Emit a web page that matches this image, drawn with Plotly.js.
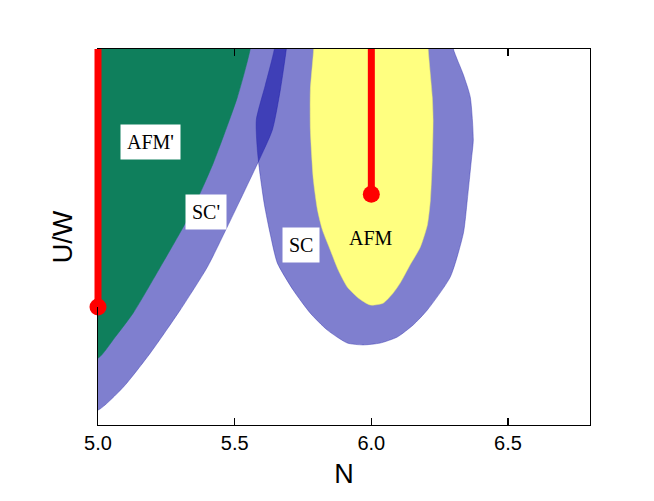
<!DOCTYPE html>
<html><head><meta charset="utf-8">
<script src="https://cdn.plot.ly/plotly-3.0.1.min.js"></script>
<style>body{margin:0;background:#fff}#c{width:654px;height:501px}</style>
</head><body><div id="c"></div>
<script>
// Region boundaries (N, U/W in relative units 0..1; points above 1 run past the frame top)
const afmPrimeN = [4.950,5.570,5.557,5.510,5.422,5.367,5.316,5.228,5.129,5.063,5.001,4.950,4.950];
const afmPrimeU = [1.080,1.080,1.000,0.872,0.697,0.606,0.532,0.420,0.298,0.234,0.178,0.178,1.080];

const scPrimeN = [4.950,5.700,5.689,5.667,5.638,5.586,5.473,5.400,5.301,5.191,5.093,5.001,4.950,4.950];
const scPrimeU = [1.080,1.080,1.000,0.891,0.785,0.699,0.527,0.420,0.306,0.191,0.101,0.040,0.040,1.080];

const scN = [5.655,5.645,5.612,5.579,5.583,5.594,5.609,5.631,5.656,5.714,5.776,5.838,5.912,5.970,6.033,6.095,6.153,6.205,6.289,6.337,6.351,6.366,6.373,6.362,6.337,6.300,6.280,5.655];
const scU = [1.080,1.000,0.904,0.811,0.731,0.660,0.585,0.505,0.431,0.359,0.298,0.253,0.218,0.213,0.218,0.234,0.266,0.306,0.394,0.511,0.598,0.705,0.758,0.872,0.931,1.000,1.080,1.080];

const afmN = [5.791,5.789,5.777,5.777,5.788,5.803,5.821,5.850,5.879,5.912,5.952,5.996,6.043,6.080,6.106,6.142,6.179,6.205,6.216,6.223,6.226,6.223,6.208,6.205,5.791];
const afmU = [1.080,1.000,0.891,0.785,0.652,0.572,0.519,0.465,0.412,0.367,0.338,0.319,0.324,0.351,0.378,0.426,0.473,0.532,0.598,0.705,0.811,0.872,1.000,1.080,1.080];

// red paths: end points (N, U/W), each drawn up to the top of the frame
const pathEndN = [5.0, 6.0];
const pathEndU = [0.314, 0.614];
const pathTopU = 1.0;

const xRange = [5.0, 6.8];
const xTicks = [5.0, 5.5, 6.0, 6.5];
const xTickText = ['5.0', '5.5', '6.0', '6.5'];

const labels = [
  {text: "AFM'", x: 5.192, y: 0.753, box: true},
  {text: "SC'",  x: 5.396, y: 0.566, box: true},
  {text: "SC",   x: 5.741, y: 0.479, box: true},
  {text: "AFM",  x: 6.000, y: 0.497, box: false}
];

const blue = 'rgba(0,0,160,0.5)';
const edge = 'rgba(40,40,170,0.7)';
const sm = {shape: 'spline', smoothing: 0.6};

const traces = [
  {x: scPrimeN, y: scPrimeU, mode: 'lines', fill: 'toself', fillcolor: blue, line: Object.assign({color: edge, width: 0.6}, sm), hoverinfo: 'skip'},
  {x: scN, y: scU, mode: 'lines', fill: 'toself', fillcolor: blue, line: Object.assign({color: edge, width: 0.6}, sm), hoverinfo: 'skip'},
  {x: afmPrimeN, y: afmPrimeU, mode: 'lines', fill: 'toself', fillcolor: '#0f7f5c', line: Object.assign({color: '#0f7f5c', width: 0.5}, sm), hoverinfo: 'skip'},
  {x: afmN, y: afmU, mode: 'lines', fill: 'toself', fillcolor: '#ffff80', line: Object.assign({color: '#e8e870', width: 0.5}, sm), hoverinfo: 'skip'},
  {x: pathEndN, y: pathEndU, mode: 'markers',
   marker: {color: '#ff0000', size: 17, opacity: 1, line: {width: 0}},
   cliponaxis: false}
];

// vertical red paths, positioned along x through the axis domain so they are not cut at the frame edge
const pathShapes = pathEndN.map((n, i) => {
  const f = (n - xRange[0]) / (xRange[1] - xRange[0]);
  return {type: 'line', xref: 'x domain', yref: 'y', x0: f, x1: f, y0: pathEndU[i], y1: pathTopU,
          line: {color: '#ff0000', width: 7}, layer: 'above'};
});

const layout = {
  width: 654, height: 501,
  margin: {l: 98, r: 64, t: 49, b: 76},
  paper_bgcolor: '#fff', plot_bgcolor: '#fff',
  showlegend: false,
  font: {family: 'Liberation Sans, Arial, sans-serif', color: '#000'},
  xaxis: {
    range: xRange, tickvals: xTicks, ticktext: xTickText,
    ticks: 'inside', ticklen: 7, tickwidth: 1.2, tickcolor: '#000',
    showline: true, linecolor: '#000', linewidth: 1.3, mirror: 'ticks',
    showgrid: false, zeroline: false,
    tickfont: {size: 20, family: 'Liberation Sans, Arial, sans-serif'},
    title: {text: 'N', font: {size: 27}, standoff: 10}
  },
  yaxis: {
    range: [0, 1], showticklabels: false, ticks: '',
    showline: true, linecolor: '#000', linewidth: 1.3, mirror: true,
    showgrid: false, zeroline: false,
    title: {text: 'U/W', font: {size: 27}, standoff: 16}
  },
  shapes: pathShapes,
  annotations: labels.map(l => ({
    x: l.x, y: l.y, xref: 'x', yref: 'y', text: l.text, showarrow: false,
    font: {family: 'Liberation Serif, Times New Roman, serif', size: 20, color: '#000'},
    bgcolor: l.box ? '#ffffff' : 'rgba(0,0,0,0)', borderpad: 6
  }))
};

Plotly.newPlot('c', traces, layout, {displayModeBar: false, staticPlot: true});
</script>
</body></html>
